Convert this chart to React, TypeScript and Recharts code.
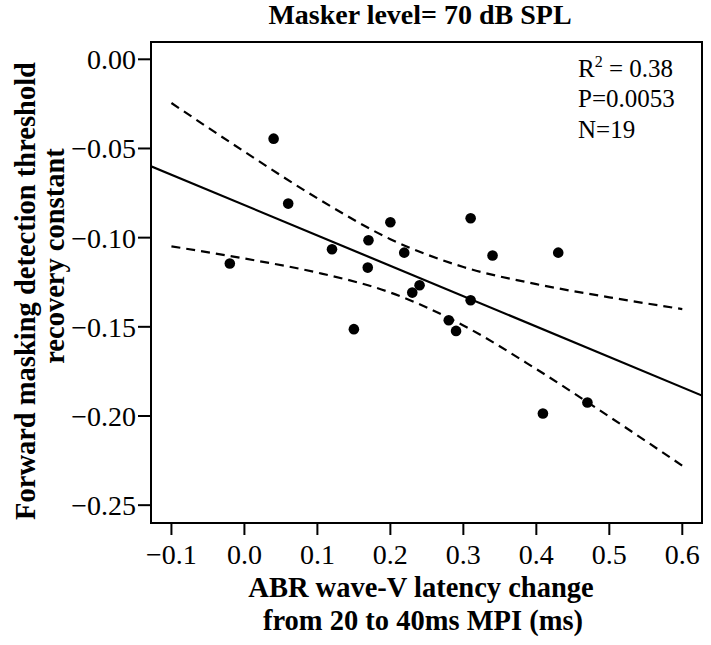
import React from 'react';
import { ComposedChart, Scatter, Line, XAxis, YAxis, ReferenceArea } from 'recharts';

// ABR wave-V latency change (ms) vs forward masking recovery constant
const latencyChange = [0.040, 0.060, -0.020, 0.120, 0.170, 0.200, 0.219, 0.169, 0.310, 0.340, 0.430, 0.240, 0.150, 0.230, 0.310, 0.280, 0.290, 0.409, 0.470];
const recoveryConstant = [-0.0445, -0.0809, -0.1145, -0.1065, -0.1015, -0.0914, -0.1084, -0.1168, -0.0891, -0.1100, -0.1084, -0.1267, -0.1513, -0.1308, -0.1351, -0.1463, -0.1523, -0.1986, -0.1924];

const xTicks = [-0.1, 0, 0.1, 0.2, 0.3, 0.4, 0.5, 0.6];
const yTicks = [0, -0.05, -0.1, -0.15, -0.2, -0.25];
const xDomain = [-0.128, 0.627];
const yDomain = [-0.26, 0.0097];

const title = 'Masker level= 70 dB SPL';
const statLines = ['= 0.38', 'P=0.0053', 'N=19'];

// t quantile (0.975, df = 17) for the 95% confidence band
const T_CRIT = 2.1098;

const FONT = '"Liberation Serif", "Times New Roman", serif';

const points = latencyChange.map((x, i) => ({ x, y: recoveryConstant[i] }));

// ordinary least squares fit
const n = points.length;
const mx = latencyChange.reduce((a, b) => a + b, 0) / n;
const my = recoveryConstant.reduce((a, b) => a + b, 0) / n;
let sxx = 0;
let sxy = 0;
points.forEach((p) => {
  sxx += (p.x - mx) ** 2;
  sxy += (p.x - mx) * (p.y - my);
});
const slope = sxy / sxx;
const intercept = my - slope * mx;
const fit = (x: number) => intercept + slope * x;
const sse = points.reduce((a, p) => a + (p.y - fit(p.x)) ** 2, 0);
const se = Math.sqrt(sse / (n - 2));
const halfWidth = (x: number) => T_CRIT * se * Math.sqrt(1 / n + (x - mx) ** 2 / sxx);

const fitLine = xDomain.map((x) => ({ x, y: fit(x) }));
const upperBand = xTicks.map((x) => ({ x, y: fit(x) + halfWidth(x) }));
const lowerBand = xTicks.map((x) => ({ x, y: fit(x) - halfWidth(x) }));

const minus = (s: string) => s.replace('-', '\u2212');

const Dot = (props: any) => <circle cx={props.cx} cy={props.cy} r={5.3} fill="#000" />;

export default function App() {
  const tickStyle = { fontFamily: FONT, fontSize: 28, fill: '#000' };
  return (
    <div style={{ position: 'absolute', left: 0, top: 0, width: 711, height: 645, background: '#fff' }}>
      <ComposedChart width={711} height={645} margin={{ top: 42, right: 9, bottom: 0, left: 0 }}>
        <XAxis
          dataKey="x"
          type="number"
          domain={xDomain}
          ticks={xTicks}
          allowDataOverflow
          axisLine={false}
          tickLine={{ stroke: '#000', strokeWidth: 2 }}
          tickSize={12}
          tickMargin={9}
          height={122}
          tick={tickStyle}
          tickFormatter={(v: number) => minus(v.toFixed(1))}
        />
        <YAxis
          dataKey="y"
          type="number"
          domain={yDomain}
          ticks={yTicks}
          allowDataOverflow
          axisLine={false}
          tickLine={{ stroke: '#000', strokeWidth: 2 }}
          tickSize={13}
          tickMargin={2}
          width={151}
          tick={tickStyle}
          tickFormatter={(v: number) => minus(v.toFixed(2))}
        />
        <Line data={fitLine} dataKey="y" stroke="#000" strokeWidth={2.2} dot={false} activeDot={false} isAnimationActive={false} />
        <Line data={upperBand} dataKey="y" type="monotone" stroke="#000" strokeWidth={2.2} strokeDasharray="9 6" dot={false} activeDot={false} isAnimationActive={false} />
        <Line data={lowerBand} dataKey="y" type="monotone" stroke="#000" strokeWidth={2.2} strokeDasharray="9 6" dot={false} activeDot={false} isAnimationActive={false} />
        <Scatter data={points} dataKey="y" fill="#000" shape={Dot} isAnimationActive={false} />
        <ReferenceArea x1={xDomain[0]} x2={xDomain[1]} y1={yDomain[0]} y2={yDomain[1]} fill="none" stroke="#000" strokeWidth={2} />
      </ComposedChart>
      <svg width={711} height={645} style={{ position: 'absolute', left: 0, top: 0, pointerEvents: 'none' }}>
        <g fontFamily={FONT} fill="#000">
          <text x={420} y={24} fontSize={28} fontWeight="bold" textAnchor="middle">{title}</text>
          <text x={578} y={77} fontSize={25}>
            R<tspan fontSize={16} dy={-10}>2</tspan>
            <tspan dy={10}> {statLines[0]}</tspan>
          </text>
          <text x={578} y={107} fontSize={25}>{statLines[1]}</text>
          <text x={578} y={138} fontSize={25}>{statLines[2]}</text>
          <text x={421} y={597} fontSize={28.5} fontWeight="bold" textAnchor="middle">ABR wave-V latency change</text>
          <text x={423} y={630} fontSize={28.5} fontWeight="bold" textAnchor="middle">from 20 to 40ms MPI (ms)</text>
          <text transform="translate(35,291) rotate(-90)" fontSize={28.5} fontWeight="bold" textAnchor="middle">Forward masking detection threshold</text>
          <text transform="translate(64,256) rotate(-90)" fontSize={28.5} fontWeight="bold" textAnchor="middle">recovery constant</text>
        </g>
      </svg>
    </div>
  );
}
